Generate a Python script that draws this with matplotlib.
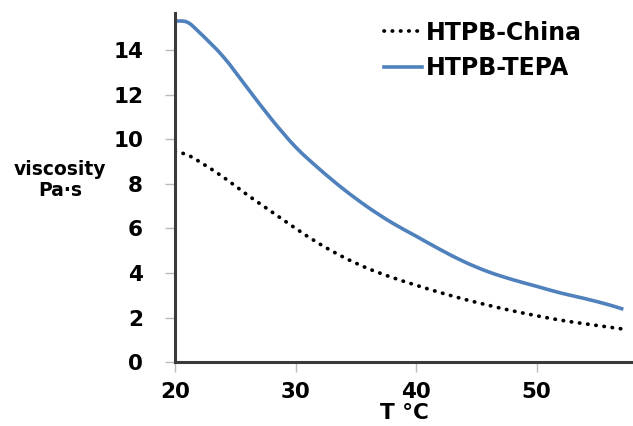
import matplotlib
matplotlib.use("Agg")
import matplotlib.pyplot as plt
from matplotlib.path import Path
from matplotlib.patches import PathPatch
from matplotlib.lines import Line2D

# temperature (°C) and viscosity (Pa·s)
temp = [20, 21, 22, 24, 26, 28, 30, 32, 34, 36, 38, 40, 42, 44, 46, 48, 50, 52, 54, 56, 57.2]
tepa = [15.3, 15.25, 14.8, 13.7, 12.3, 10.9, 9.65, 8.65, 7.75, 6.95, 6.25, 5.65, 5.05, 4.5,
        4.05, 3.7, 3.4, 3.1, 2.85, 2.57, 2.37]
china = [9.45, 9.3, 9.0, 8.3, 7.5, 6.75, 6.0, 5.3, 4.7, 4.2, 3.8, 3.45, 3.12, 2.82, 2.55,
         2.3, 2.08, 1.88, 1.72, 1.57, 1.48]

xticks = [20, 30, 40, 50]
yticks = [0, 2, 4, 6, 8, 10, 12, 14]


def smooth_path(xs, ys):
    # excel style smoothed line: cubic bezier through every point
    n = len(xs)
    verts = [(xs[0], ys[0])]
    codes = [Path.MOVETO]
    for i in range(n - 1):
        x0, y0 = xs[max(i - 1, 0)], ys[max(i - 1, 0)]
        x1, y1 = xs[i], ys[i]
        x2, y2 = xs[i + 1], ys[i + 1]
        x3, y3 = xs[min(i + 2, n - 1)], ys[min(i + 2, n - 1)]
        c1 = (x1 + (x2 - x0) / 6, y1 + (y2 - y0) / 6)
        c2 = (x2 - (x3 - x1) / 6, y2 - (y3 - y1) / 6)
        verts += [c1, c2, (x2, y2)]
        codes += [Path.CURVE4] * 3
    return Path(verts, codes)


fig = plt.figure(figsize=(6.33, 4.26), dpi=100)
ax = fig.add_axes([0.2765, 0.15, 0.7235, 0.819])

dots = (0, (0.1, 2.1))
blue = "#4F81BD"

p1 = PathPatch(smooth_path(temp, china), fill=False, edgecolor="black", lw=2.7,
               linestyle=dots, capstyle="round")
p2 = PathPatch(smooth_path(temp, tepa), fill=False, edgecolor=blue, lw=2.6)
ax.add_patch(p1)
ax.add_patch(p2)

ax.set_xlim(20, 58)
ax.set_ylim(0, 15.65)
ax.set_xticks(xticks)
ax.set_yticks(yticks)

for s in ["top", "right"]:
    ax.spines[s].set_visible(False)
for s in ["left", "bottom"]:
    ax.spines[s].set_color("#3a3a3a")
    ax.spines[s].set_linewidth(2.2)

ax.tick_params(axis="y", length=7, width=1, color="#bbbbbb", pad=16)
ax.tick_params(axis="x", length=7, width=1, color="#bbbbbb", pad=7)
for lab in ax.get_xticklabels() + ax.get_yticklabels():
    lab.set_fontweight("bold")
    lab.set_fontsize(15.5)

ax.set_xlabel("T °C", fontsize=15.5, fontweight="bold", labelpad=1)
ax.text(-0.251, 0.522, "viscosity\nPa·s", transform=ax.transAxes, ha="center", va="center",
        fontsize=13.5, fontweight="bold", linespacing=1.15)

handles = [
    Line2D([], [], color="black", lw=2.7, linestyle=dots, dash_capstyle="round"),
    Line2D([], [], color=blue, lw=2.6),
]
ax.legend(handles, ["HTPB-China", "HTPB-TEPA"], loc="upper right",
          bbox_to_anchor=(0.934, 1.04), frameon=False,
          handlelength=1.6, handletextpad=0.15, labelspacing=0.5,
          prop={"weight": "bold", "size": 17})

fig.savefig("out.png", dpi=100)
